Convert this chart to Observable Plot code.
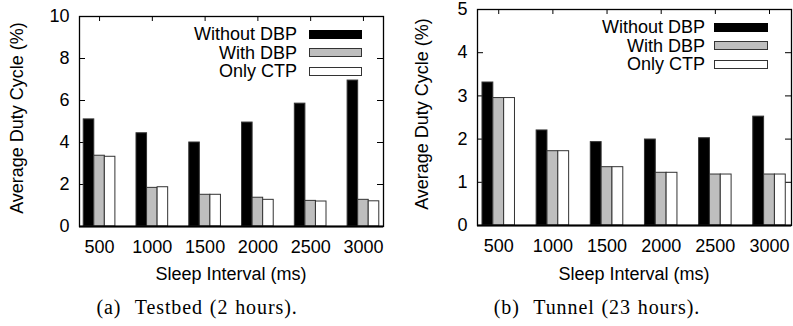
<!DOCTYPE html>
<html>
<head>
<meta charset="utf-8">
<script src="https://cdn.jsdelivr.net/npm/d3@7"></script>
<script src="https://cdn.jsdelivr.net/npm/@observablehq/plot@0.6"></script>
<style>
  html, body { margin: 0; padding: 0; background: #fff; }
  #wrap { position: relative; width: 793px; height: 326px; overflow: hidden; font-family: "Liberation Sans", Arial, sans-serif; font-size: 18px; color: #000; }
  .panel { position: absolute; top: 0; }
  .panel svg { display: block; }
  .ylab { position: absolute; font-size: 18px; white-space: nowrap; transform: translate(-50%, -50%) rotate(-90deg); }
  .xlab { position: absolute; font-size: 18px; white-space: nowrap; transform: translate(-50%, -50%); }
  .cap { position: absolute; font-family: "Liberation Serif", serif; font-size: 20px; letter-spacing: 0.9px; word-spacing: 1px; white-space: nowrap; transform: translate(-50%, -50%); }
  .legrow { position: absolute; display: flex; align-items: center; white-space: nowrap; font-size: 18px; line-height: 22px; }
  .legrow span.t { text-align: right; }
  .legrow span.s { display: inline-block; height: 7px; border: 1px solid #333; box-sizing: content-box; }
</style>
</head>
<body>
<div id="wrap"></div>
<script>
// ---- data ----
const intervals = [500, 1000, 1500, 2000, 2500, 3000];
const seriesNames = ["Without DBP", "With DBP", "Only CTP"];
const yTicksTestbed = [0, 2, 4, 6, 8, 10];
const yTicksTunnel = [0, 1, 2, 3, 4, 5];

const testbedWithout = [5.10, 4.44, 4.00, 4.95, 5.85, 6.95];
const testbedWith    = [3.37, 1.84, 1.51, 1.37, 1.22, 1.27];
const testbedCTP     = [3.32, 1.87, 1.51, 1.27, 1.19, 1.20];

const tunnelWithout  = [3.31, 2.20, 1.93, 1.99, 2.02, 2.52];
const tunnelWith     = [2.95, 1.72, 1.35, 1.22, 1.18, 1.18];
const tunnelCTP      = [2.95, 1.72, 1.35, 1.22, 1.18, 1.18];

const xLabel = "Sleep Interval (ms)";
const yLabel = "Average Duty Cycle (%)";
const captions = ["(a)\u00a0 Testbed (2 hours).", "(b)\u00a0 Tunnel (23 hours)."];

// ---- styles ----
const fills = ["#000000", "#bebebe", "#ffffff"];
const barUnits = 100; // width of one bar in x units

function rowsOf(a, b, c) {
  const vals = [a, b, c];
  return intervals.flatMap((iv, i) => seriesNames.map((s, j) => ({interval: iv, idx: j, series: s, value: vals[j][i]})));
}

function makePanel(cfg) {
  const frameW = cfg.width - cfg.marginLeft - cfg.marginRight;
  const frameH = cfg.height - cfg.marginTop - cfg.marginBottom;
  const ymax = cfg.yTicks[cfg.yTicks.length - 1];
  const [xmin, xmax] = cfg.xDomain;
  const tickLenX = 6 * (xmax - xmin) / frameW;   // 6px expressed in x units
  const tickLenY = 5 * ymax / frameH;            // 5px expressed in y units
  const svg = Plot.plot({
    width: cfg.width,
    height: cfg.height,
    marginLeft: cfg.marginLeft,
    marginRight: cfg.marginRight,
    marginTop: cfg.marginTop,
    marginBottom: cfg.marginBottom,
    style: {fontFamily: "Liberation Sans, Arial, sans-serif", fontSize: "18px", color: "#000", background: "#fff"},
    x: {type: "linear", domain: cfg.xDomain, ticks: intervals, tickFormat: d => String(d), tickSize: 0, tickPadding: 14, label: null},
    y: {domain: [0, ymax], ticks: cfg.yTicks, tickFormat: d => String(d), tickSize: 0, tickPadding: 10, label: null},
    color: {type: "ordinal", domain: seriesNames, range: fills},
    marks: [
      Plot.ruleY(cfg.yTicks, {y: d => d, x1: xmin, x2: xmin + tickLenX, stroke: "#000", strokeWidth: 1}),
      Plot.ruleY(cfg.yTicks, {y: d => d, x1: xmax - tickLenX, x2: xmax, stroke: "#000", strokeWidth: 1}),
      Plot.ruleX(intervals, {x: d => d, y1: ymax, y2: ymax - tickLenY, stroke: "#000", strokeWidth: 1}),
      Plot.rect(cfg.rows, {
        x1: d => d.interval + (d.idx - 1.5) * barUnits,
        x2: d => d.interval + (d.idx - 0.5) * barUnits,
        y1: 0,
        y2: "value",
        fill: "series",
        stroke: "#333",
        strokeWidth: 1
      }),
      Plot.frame({stroke: "#000", strokeWidth: 1.3}),
      Plot.ruleY([0], {stroke: "#000", strokeWidth: 2})
    ]
  });
  const div = document.createElement("div");
  div.className = "panel";
  div.style.left = cfg.left + "px";
  div.style.width = cfg.width + "px";
  div.style.height = "326px";
  div.appendChild(svg);

  const fx0 = cfg.marginLeft, fy0 = cfg.marginTop;
  const yl = document.createElement("div");
  yl.className = "ylab"; yl.textContent = yLabel;
  yl.style.left = cfg.yLabX + "px"; yl.style.top = (fy0 + frameH / 2 - 3) + "px";
  div.appendChild(yl);
  const xl = document.createElement("div");
  xl.className = "xlab"; xl.textContent = xLabel;
  xl.style.left = (fx0 + frameW / 2) + "px"; xl.style.top = cfg.xLabY + "px";
  div.appendChild(xl);
  const cp = document.createElement("div");
  cp.className = "cap"; cp.textContent = cfg.caption;
  cp.style.left = cfg.capX + "px"; cp.style.top = "307px";
  div.appendChild(cp);
  seriesNames.forEach((s, j) => {
    const row = document.createElement("div");
    row.className = "legrow";
    row.style.right = (cfg.width - cfg.legSwatchRight) + "px";
    row.style.top = (cfg.legY0 + j * cfg.legStep - 11) + "px";
    row.style.height = "22px";
    const t = document.createElement("span"); t.className = "t"; t.textContent = s;
    t.style.marginRight = cfg.legGap + "px";
    const sw = document.createElement("span"); sw.className = "s";
    sw.style.width = (cfg.legSwatchW - 2) + "px";
    sw.style.background = fills[j];
    if (j === 0) sw.style.borderColor = "#000";
    row.appendChild(t); row.appendChild(sw);
    div.appendChild(row);
  });
  return div;
}

const wrap = document.getElementById("wrap");
wrap.appendChild(makePanel({
  left: 0, width: 396, height: 290,
  marginLeft: 79, marginRight: 13, marginTop: 16, marginBottom: 64,
  xDomain: [310, 3190], yTicks: yTicksTestbed,
  rows: rowsOf(testbedWithout, testbedWith, testbedCTP),
  yLabX: 17, xLabY: 274, capX: 197, caption: captions[0],
  legSwatchRight: 362, legSwatchW: 53, legGap: 12, legY0: 34, legStep: 18.5
}));
wrap.appendChild(makePanel({
  left: 400, width: 393, height: 290,
  marginLeft: 77, marginRight: 2, marginTop: 9, marginBottom: 65,
  xDomain: [304, 3203], yTicks: yTicksTunnel,
  rows: rowsOf(tunnelWithout, tunnelWith, tunnelCTP),
  yLabX: 22, xLabY: 274, capX: 197, caption: captions[1],
  legSwatchRight: 368, legSwatchW: 54, legGap: 9, legY0: 27, legStep: 18.7
}));
</script>
</body>
</html>
